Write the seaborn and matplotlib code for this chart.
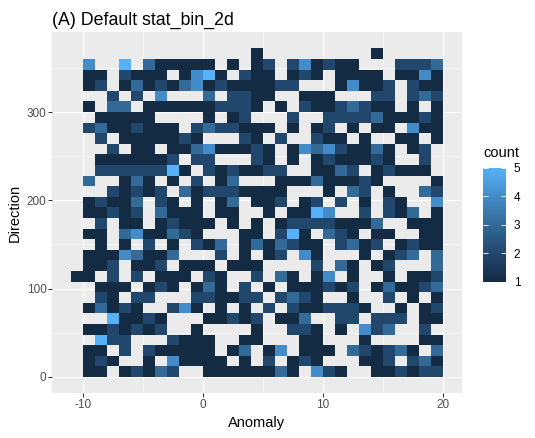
import matplotlib
matplotlib.use("Agg")
import matplotlib.pyplot as plt
from matplotlib.colors import LinearSegmentedColormap
import pandas as pd
import seaborn as sns

# Counts per cell: one row per Direction band (12 wide), columns are Anomaly bands (1 wide) from -11 to 20
row_360 = [0,0,0,0,0,0,0,0,0,0,0,0,0,0,0,1,0,0,0,0,0,0,0,0,0,1,0,0,0,0,0]
row_348 = [0,4,0,0,5,0,3,1,1,1,1,1,0,1,0,1,2,0,2,4,1,2,1,1,0,0,0,2,2,2,3]
row_336 = [0,1,1,0,2,1,1,1,0,1,4,5,1,0,2,1,1,0,1,2,1,0,1,1,1,1,0,1,1,4,1]
row_324 = [0,1,2,0,1,3,1,2,1,3,4,1,2,1,1,1,1,2,2,0,0,0,1,4,1,1,2,0,2,1,1]
row_312 = [0,0,0,2,0,2,0,4,0,0,0,3,0,2,2,1,1,0,0,1,1,1,0,0,0,2,2,0,2,3,2]
row_300 = [0,1,0,3,3,0,1,1,1,1,1,1,2,2,2,1,0,1,0,2,1,1,2,3,2,1,1,0,1,0,1]
row_288 = [0,0,1,1,1,1,1,0,0,0,0,1,0,1,2,0,0,0,2,0,0,2,2,2,2,3,1,1,1,2,1]
row_276 = [0,2,3,1,1,2,1,1,1,0,2,3,2,2,1,1,1,0,1,0,1,2,0,1,0,1,1,0,4,1,1]
row_264 = [0,0,2,0,1,1,1,1,1,2,1,0,0,0,2,1,0,2,0,0,2,1,1,0,1,0,0,1,1,0,1]
row_252 = [0,0,0,2,0,1,1,0,1,1,3,4,1,1,1,2,1,0,1,4,3,4,2,1,1,3,1,0,1,2,0]
row_240 = [0,0,1,1,1,1,1,1,2,0,2,2,0,0,0,2,1,0,1,0,1,2,1,1,1,2,1,0,0,2,0]
row_228 = [0,0,2,2,2,2,2,2,5,1,0,2,1,2,1,1,2,2,0,0,1,1,3,2,0,1,2,1,1,1,0]
row_216 = [0,3,0,0,1,3,1,0,1,0,2,0,1,3,0,0,0,1,1,1,3,1,1,1,2,1,0,0,0,0,1]
row_204 = [0,0,0,2,1,2,1,2,0,3,1,2,2,2,1,1,1,1,0,0,0,1,0,3,2,0,1,0,0,3,2]
row_192 = [0,1,2,1,1,3,0,2,1,0,1,0,1,3,0,1,1,2,0,1,2,0,2,0,1,0,2,1,0,0,4]
row_180 = [0,1,1,2,1,2,0,3,1,1,1,0,1,1,0,0,1,0,1,1,5,4,0,0,2,0,2,1,3,0,1]
row_168 = [0,0,2,0,1,1,0,1,2,1,1,1,0,1,0,1,0,1,2,2,2,2,1,1,1,3,0,0,1,1,1]
row_156 = [0,1,1,0,3,4,1,1,3,2,1,0,0,0,1,1,0,2,5,1,0,3,2,1,0,1,1,0,0,1,1]
row_144 = [0,0,1,0,1,0,2,0,1,0,2,1,3,0,1,3,1,3,2,1,1,0,2,3,1,2,0,1,2,1,1]
row_132 = [0,1,1,1,4,3,1,1,3,0,0,0,2,0,1,0,1,2,0,4,1,0,0,0,1,0,1,2,3,0,3]
row_120 = [0,1,1,2,0,1,1,2,0,1,1,1,0,1,1,1,0,0,0,0,2,0,3,1,0,1,2,0,0,0,3]
row_108 = [1,1,0,2,0,2,0,1,1,1,0,2,1,0,0,2,0,3,1,0,1,4,0,1,0,0,1,0,1,1,2]
row_096 = [0,0,1,1,1,0,1,2,1,0,1,3,1,0,2,0,1,0,1,1,1,2,1,2,0,1,3,1,1,2,3]
row_084 = [0,0,2,1,0,2,2,0,0,0,2,2,1,1,2,2,0,2,3,2,1,0,0,1,0,0,2,0,1,0,1]
row_072 = [0,1,3,1,2,1,0,0,2,4,1,0,1,0,1,0,2,0,2,1,1,2,2,2,1,0,0,1,0,1,2]
row_060 = [0,0,0,5,1,1,2,1,0,0,0,1,1,2,1,2,0,1,1,3,0,0,2,2,0,2,2,2,0,1,1]
row_048 = [0,1,1,2,1,2,1,2,0,0,1,0,0,0,0,1,0,0,2,2,1,0,1,0,4,2,3,0,0,2,0]
row_036 = [0,0,5,2,2,0,0,0,2,1,1,1,0,0,1,1,0,0,0,1,1,0,0,0,1,0,0,0,0,1,1]
row_024 = [0,1,1,0,2,0,2,1,1,1,1,1,0,1,3,0,1,4,0,1,1,1,0,3,2,1,2,3,1,0,3]
row_012 = [0,1,2,1,0,0,1,0,4,1,1,1,1,0,1,0,2,0,1,2,1,0,0,0,1,1,2,0,2,3,1]
row_000 = [0,1,1,0,1,2,1,3,2,0,0,1,1,1,1,1,1,3,1,0,4,2,1,0,0,1,1,2,1,2,2]

rows = {
    0: row_000, 12: row_012, 24: row_024, 36: row_036, 48: row_048, 60: row_060,
    72: row_072, 84: row_084, 96: row_096, 108: row_108, 120: row_120, 132: row_132,
    144: row_144, 156: row_156, 168: row_168, 180: row_180, 192: row_192, 204: row_204,
    216: row_216, 228: row_228, 240: row_240, 252: row_252, 264: row_264, 276: row_276,
    288: row_288, 300: row_300, 312: row_312, 324: row_324, 336: row_336, 348: row_348,
    360: row_360,
}
x_start = -11
x_ticks = [-10, 0, 10, 20]
y_ticks = [0, 100, 200, 300]
x_minor = [-5, 5, 15]
y_minor = [50, 150, 250, 350]
legend_ticks = [1, 2, 3, 4, 5]

records = [
    {"Anomaly": x_start + i + 0.5, "Direction": low + 6, "count": n}
    for low, values in rows.items()
    for i, n in enumerate(values)
    if n > 0
]
df = pd.DataFrame(records)

W, H = 535, 438
plt.rcParams["font.family"] = ["Liberation Sans", "DejaVu Sans"]
plt.rcParams["axes.unicode_minus"] = False
fig = plt.figure(figsize=(W / 100, H / 100), dpi=100, facecolor="white")

L, R, T, B = 52.4, 461.6, 32.0, 393.4
ax = fig.add_axes([L / W, 1 - B / H, (R - L) / W, (B - T) / H])
ax.set_facecolor("#EBEBEB")
ax.set_axisbelow(True)
ax.set_xticks(x_ticks)
ax.set_yticks(y_ticks)
ax.set_xticks(x_minor, minor=True)
ax.set_yticks(y_minor, minor=True)
ax.grid(True, which="major", color="white", linewidth=0.85)
ax.grid(True, which="minor", color="white", linewidth=0.42)

BL, BR, BT, BB = 483.0, 506.0, 167.5, 282.0
cax = fig.add_axes([BL / W, 1 - BB / H, (BR - BL) / W, (BB - BT) / H])

cmap = LinearSegmentedColormap.from_list(
    "gg", ["#132B43", "#21476D", "#336A98", "#448CC8", "#56B1F7"], N=256
)
sns.histplot(
    data=df, x="Anomaly", y="Direction", weights="count",
    binwidth=(1, 12), binrange=((-11, 20), (0, 372)),
    cmap=cmap, vmin=1, vmax=5, cbar=True, cbar_ax=cax, ax=ax,
    linewidth=0,
)

ax.set_xlim(-12.55, 21.55)
ax.set_ylim(-18.6, 390.6)
for s in ax.spines.values():
    s.set_visible(False)
ax.tick_params(axis="both", which="major", length=2.64, width=0.75, color="#333333",
               labelcolor="#4D4D4D", labelsize=8.45, pad=1.6)
ax.tick_params(axis="both", which="minor", length=0)
ax.set_xlabel("Anomaly", fontsize=10.56, color="black", labelpad=3.5)
ax.set_ylabel("Direction", fontsize=10.56, color="black", labelpad=3.5)
ax.set_title("(A) Default stat_bin_2d", fontsize=12.8, color="black", loc="left", pad=5)

cb = ax.collections[0].colorbar
cb.set_ticks(legend_ticks)
cb.outline.set_visible(False)
cax.tick_params(axis="y", direction="in", length=3.3, width=0.6, color="white",
                left=True, right=True, labelleft=False, labelright=True,
                labelsize=8.45, labelcolor="black", pad=5.5)
fig.text(BL / W, 1 - 153 / H, "count", fontsize=10.56, color="black", ha="left", va="center")

fig.savefig("out.png", dpi=100)
